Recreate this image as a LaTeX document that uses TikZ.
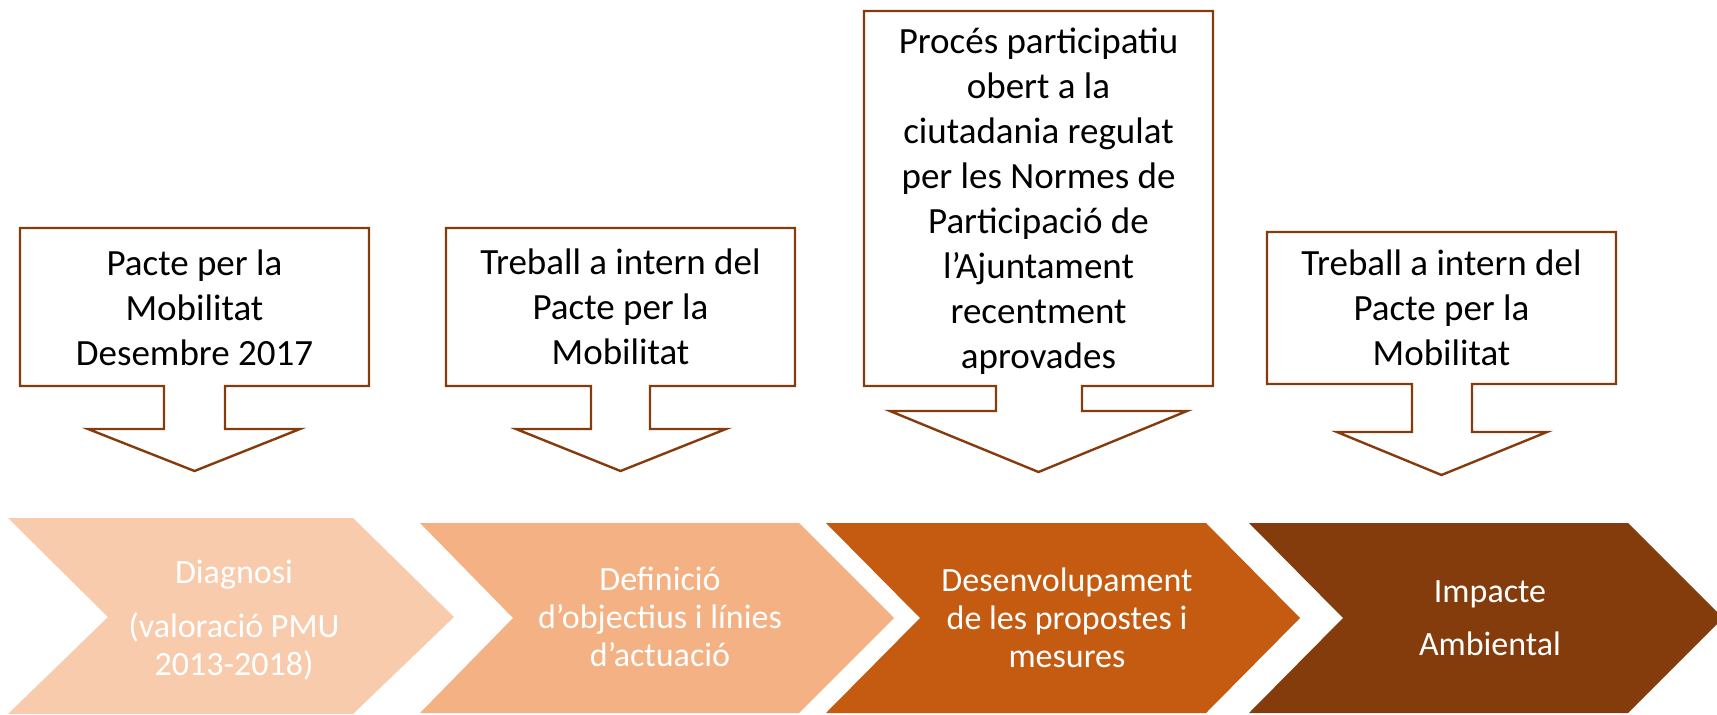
\documentclass[tikz,border=0pt]{standalone}
\usepackage{fontspec}
\setmainfont{Carlito}
\definecolor{cline}{HTML}{843C0C}
\definecolor{chA}{HTML}{F8CBAD}
\definecolor{chB}{HTML}{F4B183}
\definecolor{chC}{HTML}{C55A11}
\definecolor{chD}{HTML}{843C0C}
\begin{document}
\begin{tikzpicture}[x=1pt,y=-1pt,
  callout/.style={draw=cline, line width=2.4pt, fill=white, line join=miter},
  ctext/.style={font=\fontsize{37}{45}\selectfont, align=center, anchor=base, inner sep=0pt, text=black},
  chtext/.style={font=\fontsize{34}{38}\selectfont, align=center, anchor=base, inner sep=0pt, text=white}]
\useasboundingbox (0,0) rectangle (1717,715);
% chevrons
\fill[chA] (8,518) -- (353,518) -- (454,617) -- (353,714) -- (8,714) -- (108,617) -- cycle;
\fill[chB] (420,523) -- (799,523) -- (894,618) -- (799,713) -- (420,713) -- (513,618) -- cycle;
\fill[chC] (826,523) -- (1206,523) -- (1300,618) -- (1206,713) -- (826,713) -- (920,618) -- cycle;
\fill[chD] (1249,523) -- (1628,523) -- (1717,612) -- (1717,624) -- (1628,713) -- (1249,713) -- (1343,618) -- cycle;
\node[chtext] (t1) at (234,675) {Diagnosi\\[16pt](valoració PMU\\2013-2018)};
\node[chtext] (t2) at (660,666) {Definició\\d’objectius i línies\\d’actuació};
\node[chtext] (t3) at (1067,667) {Desenvolupament\\de les propostes i\\mesures};
\node[chtext] (t4) at (1490,655) {Impacte\\[15pt]Ambiental};
% callouts
\draw[callout] (20,228) -- (369,228) -- (369,386) -- (225,386) -- (225,429) -- (300,429) -- (194.5,471) -- (88,429) -- (164,429) -- (164,386) -- (20,386) -- cycle;
\draw[callout] (446,228) -- (795,228) -- (795,386) -- (650,386) -- (650,429) -- (726,429) -- (620.5,471) -- (516,429) -- (591,429) -- (591,386) -- (446,386) -- cycle;
\draw[callout] (864,11) -- (1213,11) -- (1213,386) -- (1082,386) -- (1082,411) -- (1187,411) -- (1038.5,472) -- (890,411) -- (996,411) -- (996,386) -- (864,386) -- cycle;
\draw[callout] (1267,232) -- (1616,232) -- (1616,384) -- (1472,384) -- (1472,432) -- (1547,432) -- (1441.5,475) -- (1337,432) -- (1412,432) -- (1412,384) -- (1267,384) -- cycle;
\node[ctext] (c1) at (194.5,365) {Pacte per la\\Mobilitat\\Desembre 2017};
\node[ctext] (c2) at (620.5,364) {Treball a intern del\\Pacte per la\\Mobilitat};
\node[ctext] (c3) at (1038.5,368) {Procés participatiu\\obert a la\\ciutadania regulat\\per les Normes de\\Participació de\\l’Ajuntament\\recentment\\aprovades};
\node[ctext] (c4) at (1441.5,365) {Treball a intern del\\Pacte per la\\Mobilitat};
\end{tikzpicture}
\end{document}
